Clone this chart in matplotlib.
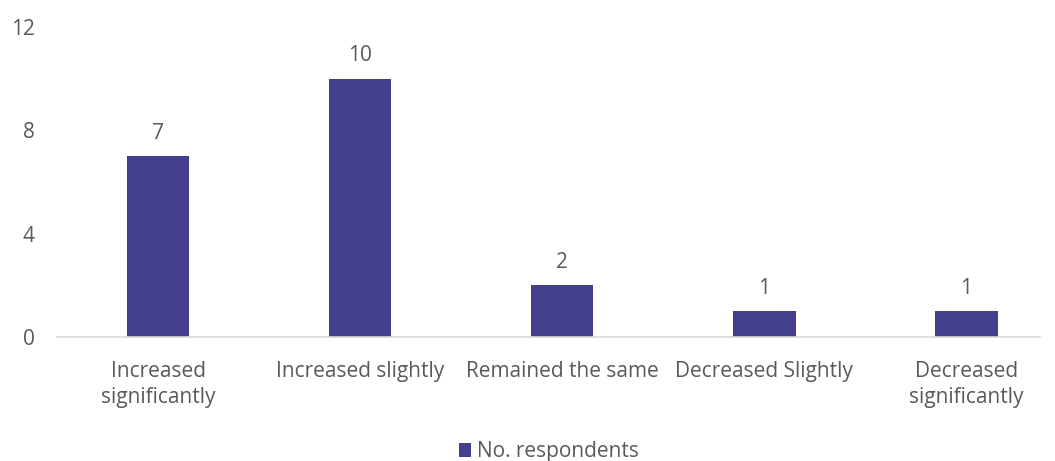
import matplotlib
matplotlib.use("Agg")
import matplotlib.pyplot as plt

categories = ["Increased\nsignificantly", "Increased slightly", "Remained the same",
              "Decreased Slightly", "Decreased\nsignificantly"]
respondents = [7, 10, 2, 1, 1]
y_ticks = [0, 4, 8, 12]

bar_color = "#433E8D"
text_color = "#595959"

plt.rcParams['font.family'] = ['Open Sans', 'DejaVu Sans']

fig = plt.figure(figsize=(10.55, 4.61), dpi=100)
ax = fig.add_axes([0.054, 0.269, 0.932, 0.6724])

x = list(range(len(categories)))
bars = ax.bar(x, respondents, width=0.31, color=bar_color, label='No. respondents', zorder=2)

# value labels above each bar
for xi, v in zip(x, respondents):
    ax.annotate(str(v), (xi, v), xytext=(0, 9), textcoords='offset points',
                ha='center', va='bottom', fontsize=15, color=text_color)

ax.set_xlim(-0.5, 4.366)
ax.set_ylim(0, 12)
ax.set_yticks(y_ticks)
ax.set_xticks(x)
ax.set_xticklabels(categories, linespacing=1.35)

for s in ['top', 'right', 'left']:
    ax.spines[s].set_visible(False)
ax.spines['bottom'].set_color('#D9D9D9')
ax.spines['bottom'].set_linewidth(1.2)

ax.tick_params(axis='both', length=0, labelsize=15, labelcolor=text_color)
ax.tick_params(axis='y', pad=16)
ax.tick_params(axis='x', pad=17)

fig.legend(handles=[bars], labels=['No. respondents'], loc='center',
           bbox_to_anchor=(0.52, 0.02), frameon=False, fontsize=15,
           labelcolor=text_color, handlelength=0.6, handleheight=0.6,
           handletextpad=0.25)

fig.savefig('out.png', dpi=100)
